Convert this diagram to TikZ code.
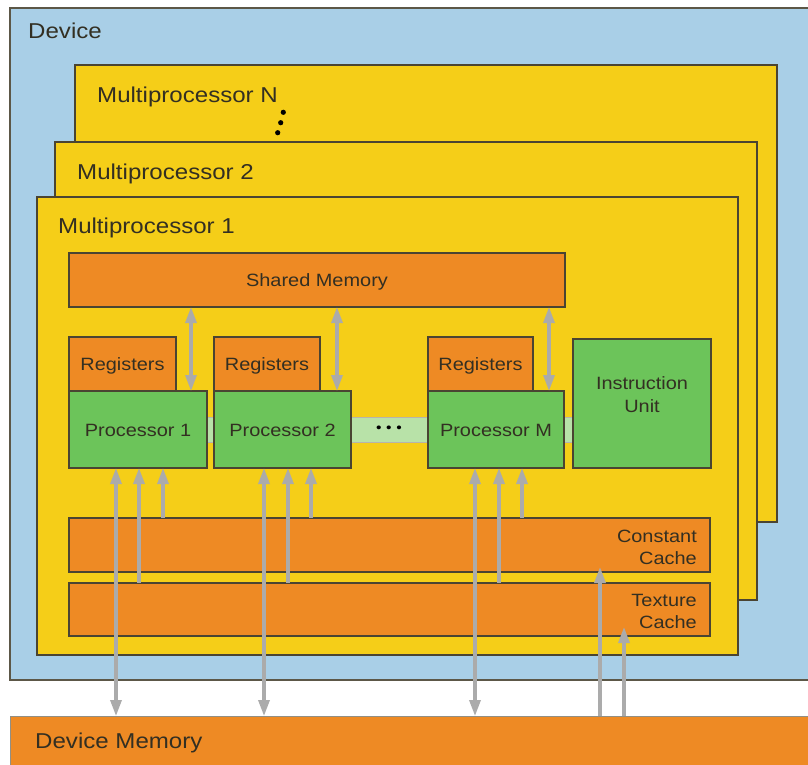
\documentclass[tikz,border=0pt]{standalone}
\usepackage{fontspec}
\setmainfont{Liberation Sans}[FakeStretch=1.12]
\usetikzlibrary{arrows.meta,calc}
\definecolor{devblue}{HTML}{A9CFE7}
\definecolor{mpyellow}{HTML}{F5CE18}
\definecolor{memorange}{HTML}{EE8A24}
\definecolor{procgreen}{HTML}{6CC45A}
\definecolor{buslight}{HTML}{B8E2A8}
\definecolor{edgedark}{HTML}{4A4432}
\definecolor{txtdark}{HTML}{332F22}
\definecolor{arrgray}{HTML}{ABABAB}
\begin{document}
\begin{tikzpicture}[x=1pt,y=-1pt,
  box/.style={draw=edgedark,line width=1.8pt,anchor=north west,inner sep=0pt,outer sep=0pt},
  bigtxt/.style={text=txtdark,font=\fontsize{21.5}{24}\selectfont,inner sep=0pt,anchor=west},
  smalltxt/.style={text=txtdark,font=\fontsize{17.8}{20}\selectfont,inner sep=0pt},
  mp/.style={box,fill=mpyellow},
  mem/.style={box,fill=memorange},
  proc/.style={box,fill=procgreen},
  dbl/.style={draw=arrgray,line width=3.2pt,{Triangle[width=11pt,length=16pt]}-{Triangle[width=11pt,length=16pt]}},
  upa/.style={draw=arrgray,line width=3.2pt,-{Triangle[width=11pt,length=16pt]}}]
\useasboundingbox (0,0) rectangle (808,764);
\fill[white] (0,0) rectangle (808,764);
% device
\node[box,draw=edgedark!90,fill=devblue,minimum width=810pt,minimum height=672pt] (dev) at (10,8) {};
\node[bigtxt] (devlbl) at (28,31) {Device};
% device memory
\node[box,draw=edgedark!60,line width=1pt,fill=memorange,minimum width=810pt,minimum height=60pt] (dm) at (10,716) {};
\node[bigtxt] (dmlbl) at (35,743) {Device Memory};
% multiprocessors
\node[mp,minimum width=702pt,minimum height=457pt] (mpn) at (75,65) {};
\node[bigtxt] (mpnlbl) at (97,97) {Multiprocessor N};
\fill[black] (283.3,112.3) circle (2.6pt) (280.7,122.7) circle (2.6pt) (277.7,132.7) circle (2.6pt);
\node[mp,minimum width=702pt,minimum height=458pt] (mp2) at (55,142) {};
\node[bigtxt] (mp2lbl) at (77,174) {Multiprocessor 2};
\node[mp,minimum width=701pt,minimum height=458pt] (mp1) at (37,197) {};
\node[bigtxt] (mp1lbl) at (58,228) {Multiprocessor 1};
% shared memory
\node[mem,minimum width=496pt,minimum height=54pt] (sh) at (69,253) {};
\node[smalltxt] (shlbl) at ($(sh.center)+(0,2)$) {Shared Memory};
% bus
\node[anchor=north west,fill=buslight,draw=edgedark!40,line width=0.6pt,minimum width=366pt,minimum height=25pt,inner sep=0pt] (bus) at (207,417) {};
% registers
\node[mem,minimum width=107pt,minimum height=54pt] (r1) at (69,337) {};
\node[smalltxt] (r1lbl) at ($(r1.center)+(0,2)$) {Registers};
\node[mem,minimum width=106pt,minimum height=54pt] (r2) at (214,337) {};
\node[smalltxt] (r2lbl) at ($(r2.center)+(0,2)$) {Registers};
\node[mem,minimum width=105pt,minimum height=54pt] (rm) at (428,337) {};
\node[smalltxt] (rmlbl) at ($(rm.center)+(0,2)$) {Registers};
% processors
\node[proc,minimum width=138pt,minimum height=77pt] (p1) at (69,391) {};
\node[smalltxt] (p1lbl) at ($(p1.center)+(0,1)$) {Processor 1};
\node[proc,minimum width=137pt,minimum height=77pt] (p2) at (214,391) {};
\node[smalltxt] (p2lbl) at ($(p2.center)+(0,1)$) {Processor 2};
\node[proc,minimum width=136pt,minimum height=77pt] (pm) at (428,391) {};
\node[smalltxt] (pmlbl) at ($(pm.center)+(0,1)$) {Processor M};
\node[smalltxt,text=black,font=\fontsize{14}{16}\selectfont] (bdots) at (389,429) {•\,\,•\,\,•};
\node[proc,minimum width=138pt,minimum height=129pt] (iu) at (573,339) {};
\node[smalltxt,align=center,font=\fontsize{17.8}{23}\selectfont] (iulbl) at ($(iu.center)+(0,-9)$) {Instruction\\Unit};
% caches
\node[mem,minimum width=641pt,minimum height=54pt] (cc) at (69,518) {};
\node[smalltxt,align=right,anchor=east,font=\fontsize{17.8}{22}\selectfont] (cclbl) at ($(cc.east)+(-13,2)$) {Constant\\Cache};
\node[mem,minimum width=641pt,minimum height=53pt] (tc) at (69,583) {};
\node[smalltxt,align=right,anchor=east,font=\fontsize{17.8}{22}\selectfont] (tclbl) at ($(tc.east)+(-13,2)$) {Texture\\Cache};
% shared memory arrows
\draw[dbl] ([xshift=122pt]sh.south west) -- ([xshift=122pt]sh.south west |- p1.north);
\draw[dbl] ([xshift=268pt]sh.south west) -- ([xshift=268pt]sh.south west |- p2.north);
\draw[dbl] ([xshift=480pt]sh.south west) -- ([xshift=480pt]sh.south west |- pm.north);
% processor 1 arrows
\draw[dbl] ([xshift=47pt]p1.south west) -- ([xshift=47pt]p1.south west |- dm.north);
\draw[upa] ([xshift=70pt]p1.south west |- tc.north) -- ([xshift=70pt]p1.south west);
\draw[upa] ([xshift=94pt]p1.south west |- cc.north) -- ([xshift=94pt]p1.south west);
% processor 2 arrows
\draw[dbl] ([xshift=50pt]p2.south west) -- ([xshift=50pt]p2.south west |- dm.north);
\draw[upa] ([xshift=74pt]p2.south west |- tc.north) -- ([xshift=74pt]p2.south west);
\draw[upa] ([xshift=97pt]p2.south west |- cc.north) -- ([xshift=97pt]p2.south west);
% processor M arrows
\draw[dbl] ([xshift=47pt]pm.south west) -- ([xshift=47pt]pm.south west |- dm.north);
\draw[upa] ([xshift=71pt]pm.south west |- tc.north) -- ([xshift=71pt]pm.south west);
\draw[upa] ([xshift=94pt]pm.south west |- cc.north) -- ([xshift=94pt]pm.south west);
% device memory to caches
\draw[upa] ([xshift=590pt]dm.north west) -- ([xshift=590pt,yshift=5pt]dm.north west |- cc.south);
\draw[upa] ([xshift=614pt]dm.north west) -- ([xshift=614pt,yshift=9pt]dm.north west |- tc.south);
\end{tikzpicture}
\end{document}
